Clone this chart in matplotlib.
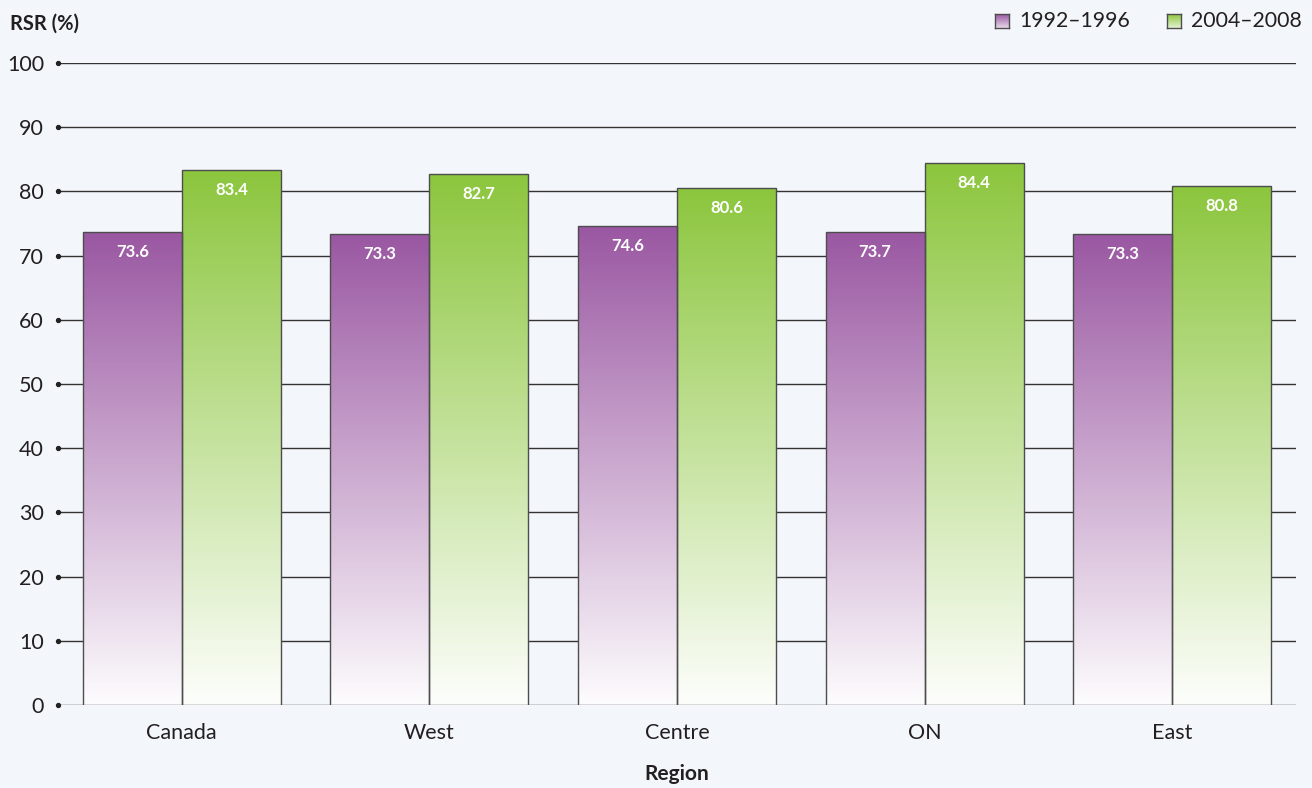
import numpy as np
import matplotlib
matplotlib.use("Agg")
import matplotlib.pyplot as plt
from matplotlib.colors import LinearSegmentedColormap

plt.rcParams['font.family'] = ['Lato', 'DejaVu Sans']

regions = ["Canada", "West", "Centre", "ON", "East"]
period_1 = [73.6, 73.3, 74.6, 73.7, 73.3]
period_2 = [83.4, 82.7, 80.6, 84.4, 80.8]
series_names = ["1992\u20131996", "2004\u20132008"]
y_ticks = [0, 10, 20, 30, 40, 50, 60, 70, 80, 90, 100]

bg = "#f3f6fb"
purple = "#9a58a2"
green = "#8cc63e"
text_col = "#231f20"

fig = plt.figure(figsize=(13.12, 7.88), dpi=100, facecolor=bg)
ax = fig.add_axes([58 / 1312, 83 / 788, 1238 / 1312, 642 / 788])
ax.set_facecolor(bg)


def gradient_cmap(col):
    return LinearSegmentedColormap.from_list("g", ["#ffffff", col])


def grad_bars(xs, vals, col, width):
    cmap = gradient_cmap(col)
    bars = ax.bar(xs, vals, width=width, color="none", edgecolor="#4d4d4d",
                  linewidth=1.0, zorder=3)
    for b, v in zip(bars, vals):
        x0 = b.get_x()
        grad = np.linspace(0, 1, 256).reshape(-1, 1)
        im = ax.imshow(grad, cmap=cmap, origin="lower", aspect="auto",
                       extent=[x0, x0 + b.get_width(), 0, v], zorder=2,
                       vmin=-0.02, vmax=1)
        im.set_clip_path(b)
    return bars


x = np.arange(len(regions))
w = 0.4
b1 = grad_bars(x - w / 2, period_1, purple, w)
b2 = grad_bars(x + w / 2, period_2, green, w)

# value labels inside the top of each bar
for bars, vals in ((b1, period_1), (b2, period_2)):
    for b, v in zip(bars, vals):
        ax.annotate(f"{v:.1f}", (b.get_x() + b.get_width() / 2, v),
                    xytext=(0, -20), textcoords="offset pixels",
                    ha="center", va="center", color="white", fontweight="bold",
                    fontsize=12, zorder=5)

for t in y_ticks:
    ax.axhline(t, color="#333333", linewidth=1.0, zorder=1)
ax.scatter(np.full(len(y_ticks), -0.5), y_ticks, s=8, color="#222222",
           clip_on=False, zorder=4)

ax.set_xlim(-0.5, 4.5)
ax.set_ylim(0, 100)
ax.set_xticks(x)
ax.set_xticklabels(regions, fontsize=15.5, color=text_col)
ax.set_yticks(y_ticks)
ax.set_yticklabels([str(t) for t in y_ticks], fontsize=15.5, color=text_col)
ax.tick_params(axis="both", length=0)
ax.tick_params(axis="x", pad=13)
ax.tick_params(axis="y", pad=10)
for s in ax.spines.values():
    s.set_visible(False)

ax.set_xlabel("Region", fontsize=15, fontweight="bold", color=text_col, labelpad=15)
fig.text(10 / 1312, 1 - 24 / 788, "RSR (%)", fontsize=14.5, fontweight="bold",
         color=text_col, ha="left", va="center")

# legend with gradient swatches
for px, col, name in ((995, purple, series_names[0]), (1167, green, series_names[1])):
    lax = fig.add_axes([px / 1312, 1 - 28 / 788, 14 / 1312, 14 / 788])
    lax.imshow(np.linspace(0, 1, 64).reshape(-1, 1), cmap=gradient_cmap(col),
               origin="lower", aspect="auto", vmin=-0.3, vmax=1)
    lax.set_xticks([])
    lax.set_yticks([])
    for s in lax.spines.values():
        s.set_color("#4d4d4d")
        s.set_linewidth(1)
    fig.text((px + 24) / 1312, 1 - 21 / 788, name, fontsize=15.3, color=text_col,
             ha="left", va="center")

fig.savefig("out.png", dpi=100, facecolor=bg)
